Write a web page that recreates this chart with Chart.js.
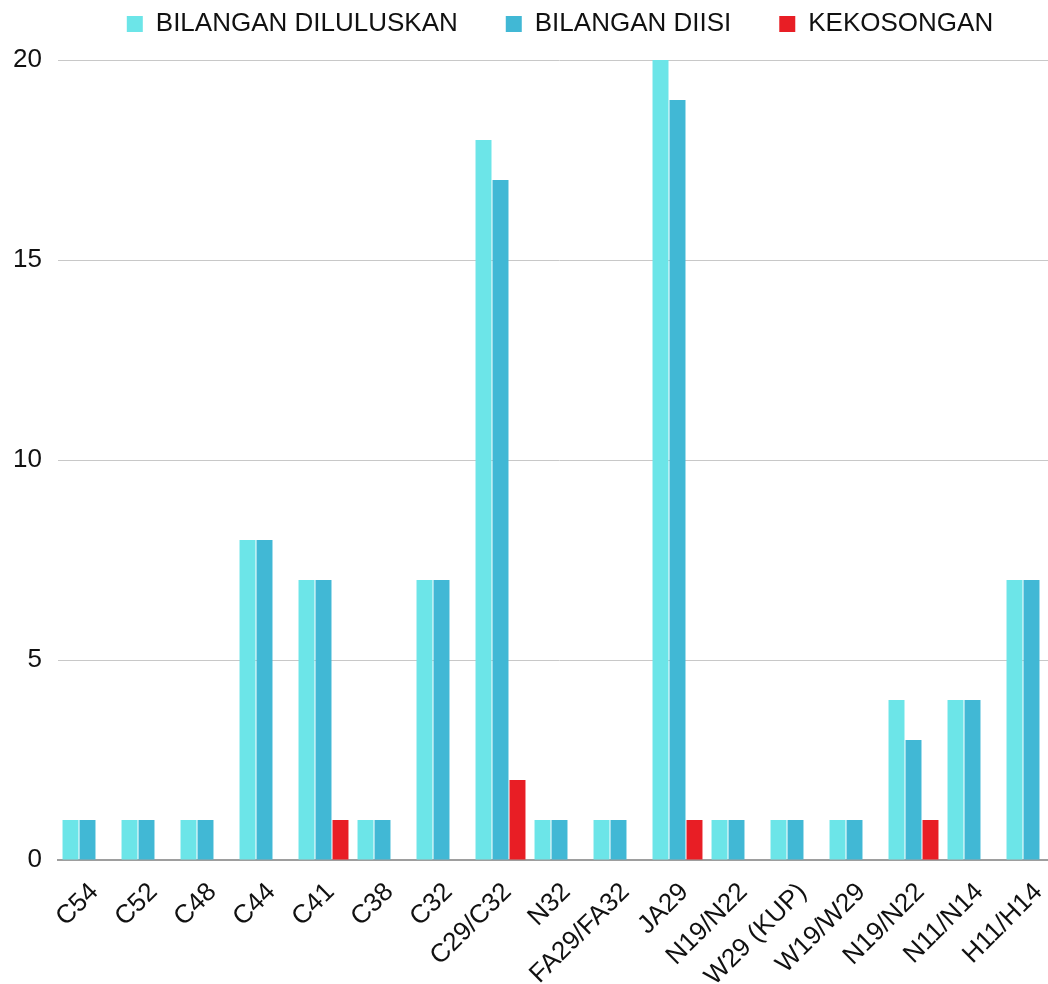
<!DOCTYPE html>
<html><head><meta charset="utf-8">
<script src="https://cdn.jsdelivr.net/npm/chart.js@4.4.1/dist/chart.umd.min.js"></script>
<style>
html,body{margin:0;padding:0;background:#fff;overflow:hidden;}
#wrap{position:relative;width:1048px;height:984px;overflow:hidden;background:#fff;}
#wrap canvas{position:absolute;left:0;top:0;}
</style></head><body>
<div id="wrap"><canvas id="c" width="1066" height="984" style="width:1066px;height:984px"></canvas></div>
<script>
const categories = ["C54","C52","C48","C44","C41","C38","C32","C29/C32","N32","FA29/FA32","JA29","N19/N22","W29 (KUP)","W19/W29","N19/N22","N11/N14","H11/H14"];
const diluluskan = [1,1,1,8,7,1,7,18,1,1,20,1,1,1,4,4,7];
const diisi      = [1,1,1,8,7,1,7,17,1,1,19,1,1,1,3,4,7];
const kekosongan = [0,0,0,0,1,0,0,2,0,0,1,0,0,0,1,0,0];
const seriesNames = ["BILANGAN DILULUSKAN","BILANGAN DIISI","KEKOSONGAN"];
const yTickValues = [0,5,10,15,20];

const FONT = "'Liberation Sans', Arial, sans-serif";

const legendShift = {
  id: 'legendShift',
  afterLayout(chart) {
    const lg = chart.legend;
    if (!lg) return;
    const dx = 560 - (lg.left + lg.right) / 2;
    lg.left += dx; lg.right += dx;
    lg.top = -37;
  }
};

new Chart(document.getElementById('c'), {
  type: 'bar',
  data: {
    labels: categories,
    datasets: [
      {label: seriesNames[0], data: diluluskan, backgroundColor: '#6ce5e8'},
      {label: seriesNames[1], data: diisi, backgroundColor: '#41b8d5'},
      {label: seriesNames[2], data: kekosongan, backgroundColor: '#e81e25'}
    ]
  },
  options: {
    responsive: false,
    animation: false,
    devicePixelRatio: 1,
    datasets: { bar: { barPercentage: 0.94, categoryPercentage: 0.864, borderWidth: 0 } },
    layout: { padding: { left: 13, right: 5, top: 0, bottom: 0 } },
    plugins: {
      legend: {
        position: 'top',
        maxHeight: 60,
        labels: { boxWidth: 16, boxHeight: 16, padding: 48, color: '#111', font: { family: FONT, size: 26 } }
      },
      tooltip: { enabled: false }
    },
    scales: {
      x: {
        grid: { display: false },
        border: { display: true, color: '#9e9e9e', width: 2 },
        ticks: { color: '#111', autoSkip: false, minRotation: 45, maxRotation: 45, padding: 9, labelOffset: 7, font: { family: FONT, size: 26 } },
        afterFit(axis) { axis.paddingLeft = 0; axis.paddingRight = 0; axis.height = 124; }
      },
      y: {
        min: 0, max: 20,
        afterBuildTicks(axis) { axis.ticks = yTickValues.map(v => ({ value: v })); },
        grid: { color: '#c8c8c8', lineWidth: 1, drawTicks: false },
        border: { display: false },
        ticks: { color: '#111', padding: 16, font: { family: FONT, size: 26 } },
        afterFit(axis) { axis.width = 45; }
      }
    }
  },
  plugins: [legendShift]
});
</script>
</body></html>
